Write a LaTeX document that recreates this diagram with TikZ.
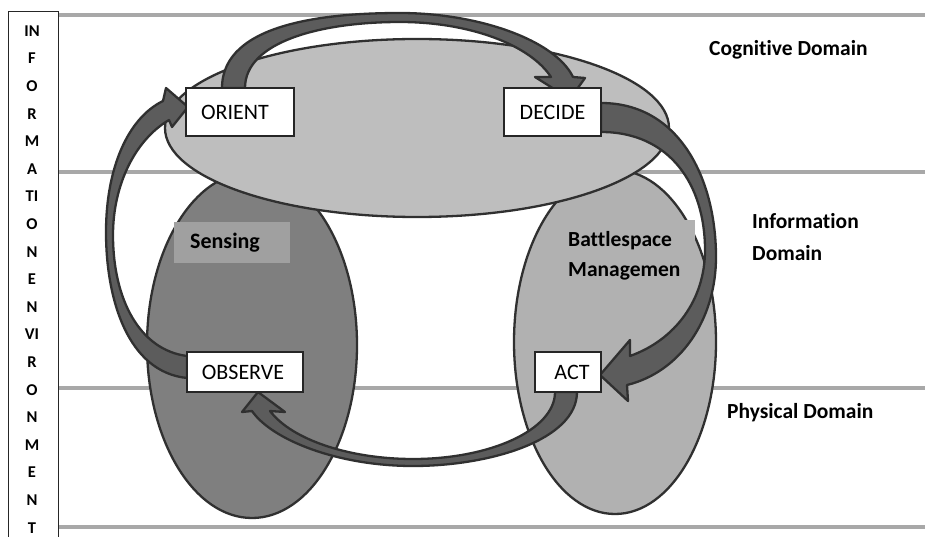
\documentclass[tikz,border=0pt]{standalone}
\usepackage{fontspec}
\setmainfont{Carlito}[Ligatures=NoCommon]
\definecolor{lineg}{HTML}{A8A8A8}
\definecolor{edgec}{HTML}{303030}
\definecolor{cogfill}{HTML}{BEBEBE}
\definecolor{senfill}{HTML}{7F7F7F}
\definecolor{batfill}{HTML}{B1B1B1}
\definecolor{arrfill}{HTML}{5C5C5C}
\definecolor{senlab}{HTML}{A0A0A0}
\begin{document}
\begin{tikzpicture}[x=1pt,y=-1pt,
  stagebox/.style={draw=black!85, line width=1.3pt, fill=white, inner sep=0pt,
    font=\fontsize{22}{26}\selectfont},
  domlabel/.style={font=\bfseries\fontsize{21.5}{26}\selectfont, anchor=base west, inner sep=0pt},
  envletter/.style={font=\bfseries\fontsize{16.5}{19}\selectfont, inner sep=0pt},
  blockarrow/.style={fill=arrfill, draw=edgec, line width=2.3pt, line join=round},
  domainshape/.style={draw=edgec, line width=2.3pt},
  gridline/.style={draw=lineg, line width=4pt}]
\useasboundingbox (0,0) rectangle (925,537);
\clip (0,0) rectangle (925,537);
\fill[white] (0,0) rectangle (925,537);

% layer boundaries
\foreach \yy in {15,172,388,527} \draw[gridline] (58,\yy) -- (925,\yy);

% information environment column
\node[draw=black!85, line width=1pt, minimum width=50pt, minimum height=560pt,
      anchor=north west, inner sep=0pt] (envbox) at (8,11) {};
\foreach \t [count=\i from 0] in {IN,F,O,R,M,A,TI,O,N,E,N,VI,R,O,N,M,E,N,T}
  \node[envletter] (env\i) at (32,{31+\i*27.6}) {\t};

% domains
\draw[domainshape, fill=senfill] (252,345) ellipse [x radius=105pt, y radius=173pt];
\draw[domainshape, fill=batfill] (615,342) ellipse [x radius=101pt, y radius=172pt];
\draw[domainshape, fill=cogfill] (417,128) ellipse [x radius=252pt, y radius=89pt];

% labels
\node[fill=senlab, inner xsep=8pt, inner ysep=0pt, minimum height=41pt, anchor=west,
      font=\bfseries\fontsize{22}{26}\selectfont] (senlab) at (174,242.5)
      {\makebox[100pt][l]{\hspace{8pt}Sensing}};
\node[fill=batfill, anchor=north west, inner xsep=13pt, inner ysep=0pt, minimum height=72pt,
      text width=114pt, align=left, font=\bfseries\fontsize{21.5}{30}\selectfont] (batlab)
      at (555,220) {Battlespace\\Managemen};

\node[domlabel] (cog) at (709,56) {Cognitive Domain};
\node[domlabel] (inf1) at (752,229) {Information};
\node[domlabel] (inf2) at (752,260) {Domain};
\node[domlabel] (phy) at (727,418) {Physical Domain};

% block arrows
% ORIENT -> DECIDE
\draw[blockarrow] (222,88) .. controls (222,22) and (330,13) .. (400,13)
  .. controls (478,13) and (555,40) .. (573,77) -- (585,78) -- (570,99) -- (535,77) -- (551,77)
  .. controls (530,45) and (470,22) .. (400,22)
  .. controls (320,22) and (245,42) .. (245,88) -- cycle;
% DECIDE -> ACT
\draw[blockarrow] (601,103) .. controls (680,103) and (716,180) .. (716,257)
  .. controls (716,320) and (680,372) .. (627,385) -- (628,401) -- (600,375) -- (630,340) -- (630,356)
  .. controls (675,340) and (705,300) .. (705,250)
  .. controls (705,185) and (670,132) .. (601,132) -- cycle;
% ACT -> OBSERVE
\draw[blockarrow] (577,392) .. controls (577,440) and (490,466) .. (413,466)
  .. controls (338,466) and (272,440) .. (252,411) -- (242,412) -- (258,392) -- (285,412) -- (270,411)
  .. controls (292,440) and (350,459) .. (413,459)
  .. controls (490,459) and (555,430) .. (555,392) -- cycle;
% OBSERVE -> ORIENT
\draw[blockarrow] (187,378) .. controls (128,372) and (106,300) .. (106,232)
  .. controls (106,168) and (128,118) .. (163,101) -- (166,88) -- (188,107) -- (172,127) -- (169,120)
  .. controls (135,140) and (113,185) .. (113,235)
  .. controls (113,300) and (140,350) .. (187,356) -- cycle;

% OODA stages
\node[stagebox, minimum width=108pt, minimum height=48pt] (orient) at (240,112) {\hspace*{-10pt}ORIENT};
\node[stagebox, minimum width=97pt, minimum height=48pt] (decide) at (552.5,112) {DECIDE};
\node[stagebox, minimum width=116pt, minimum height=40pt] (observe) at (245,372) {\hspace*{-4pt}OBSERVE};
\node[stagebox, minimum width=66pt, minimum height=40pt] (act) at (568,372) {\hspace*{8pt}ACT};
\end{tikzpicture}
\end{document}
